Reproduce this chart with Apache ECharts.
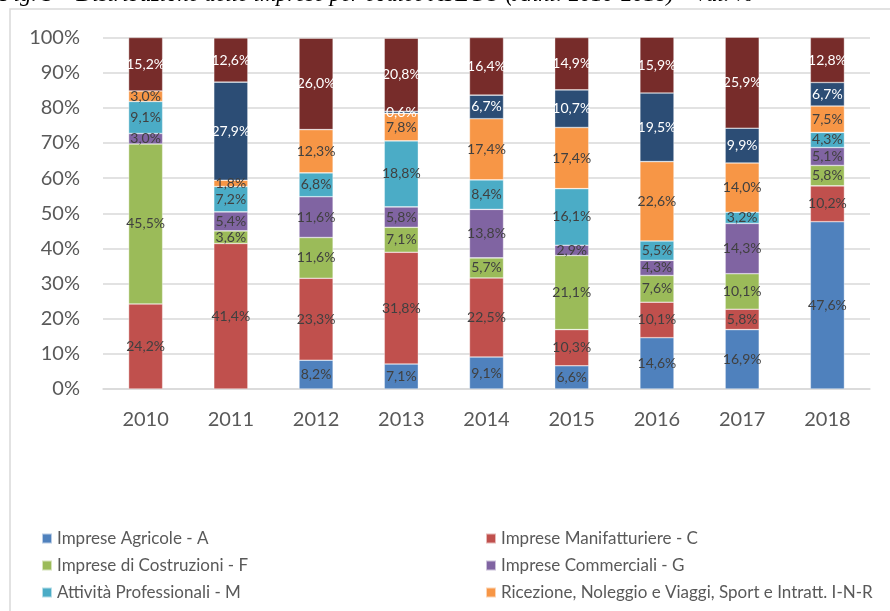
<!DOCTYPE html>
<html>
<head>
    <meta charset="utf-8">
    <script src="https://cdn.jsdelivr.net/npm/echarts@6/dist/echarts.min.js"></script>
    <style>
        html, body { margin: 0; padding: 0; background: #fff; }
        #main { width: 890px; height: 611px; }
    </style>
</head>
<body>
    <div id="main"></div>
    <script>
        var years = ['2010', '2011', '2012', '2013', '2014', '2015', '2016', '2017', '2018'];

        // values in %, 0 = segment absent
        var agricole      = [0, 0, 8.2, 7.1, 9.1, 6.6, 14.6, 16.9, 47.6];
        var manifatturiere = [24.2, 41.4, 23.3, 31.8, 22.5, 10.3, 10.1, 5.8, 10.2];
        var costruzioni   = [45.5, 3.6, 11.6, 7.1, 5.7, 21.1, 7.6, 10.1, 5.8];
        var commerciali   = [3.0, 5.4, 11.6, 5.8, 13.8, 2.9, 4.3, 14.3, 5.1];
        var professionali = [9.1, 7.2, 6.8, 18.8, 8.4, 16.1, 5.5, 3.2, 4.3];
        var ricezione     = [3.0, 1.8, 12.3, 7.8, 17.4, 17.4, 22.6, 14.0, 7.5];
        var trasporti     = [0, 27.9, 0, 0.6, 6.7, 10.7, 19.5, 9.9, 6.7];
        var altre         = [15.2, 12.6, 26.0, 20.8, 16.4, 14.9, 15.9, 25.9, 12.8];

        var seriesDefs = [
            { name: 'Imprese Agricole - A', data: agricole, color: '#4F81BD', label: '#404040' },
            { name: 'Imprese Manifatturiere - C', data: manifatturiere, color: '#C0504D', label: '#404040' },
            { name: 'Imprese di Costruzioni - F', data: costruzioni, color: '#9BBB59', label: '#404040' },
            { name: 'Imprese Commerciali - G', data: commerciali, color: '#8064A2', label: '#404040' },
            { name: 'Attività Professionali - M', data: professionali, color: '#4BACC6', label: '#404040' },
            { name: 'Ricezione, Noleggio e Viaggi, Sport e Intratt. I-N-R', data: ricezione, color: '#F79646', label: '#404040' },
            { name: 'Trasporti e Magazzinaggio - H', data: trasporti, color: '#2C4D75', label: '#ffffff' },
            { name: 'Altre Attività', data: altre, color: '#772C2A', label: '#ffffff' }
        ];

        var font = 'Lato';

        var series = seriesDefs.map(function (s) {
            return {
                name: s.name,
                type: 'bar',
                stack: 'tot',
                barWidth: '40%',
                itemStyle: { color: s.color, borderColor: 'rgba(255,255,255,0.6)', borderWidth: 0.6 },
                label: {
                    show: true,
                    position: 'inside',
                    color: s.label,
                    fontFamily: font,
                    fontSize: 14,
                    formatter: function (p) {
                        return p.value.toFixed(1).replace('.', ',') + '%';
                    }
                },
                data: s.data.map(function (v) { return v === 0 ? null : v; })
            };
        });

        var legendText = { color: '#595959', fontFamily: font, fontSize: 17, lineHeight: 17 };

        function legendAt(left, names) {
            return {
                orient: 'vertical',
                left: left,
                top: 530,
                height: 200,
                padding: 0,
                itemWidth: 10,
                itemHeight: 10,
                itemGap: 10,
                icon: 'rect',
                textStyle: legendText,
                data: names
            };
        }

        var chart = echarts.init(document.getElementById('main'));
        chart.setOption({
            animation: false,
            graphic: [
                {
                    type: 'rect',
                    shape: { x: 10, y: 9, width: 900, height: 700 },
                    style: { fill: 'none', stroke: '#d9d9d9', lineWidth: 1.5 }
                },
                {
                    type: 'text',
                    x: 0,
                    y: -5,
                    style: {
                        text: 'Fig. 3 – Distribuzione delle imprese per codice ATECO (Anni: 2010-2018) – val. %',
                        font: 'italic 22.5px "Liberation Serif"',
                        fill: '#000',
                        verticalAlign: 'middle'
                    }
                }
            ],
            legend: [
                legendAt(41, [seriesDefs[0].name, seriesDefs[2].name, seriesDefs[4].name, seriesDefs[6].name]),
                legendAt(485, [seriesDefs[1].name, seriesDefs[3].name, seriesDefs[5].name, seriesDefs[7].name])
            ],
            grid: { left: 103, right: 20, top: 37.5, bottom: 222 },
            xAxis: {
                type: 'category',
                data: years,
                axisLine: { lineStyle: { color: '#d9d9d9', width: 1.5 } },
                axisTick: { show: false },
                axisLabel: { color: '#595959', fontFamily: font, fontSize: 20, margin: 21 }
            },
            yAxis: {
                type: 'value',
                min: 0,
                max: 100,
                interval: 10,
                axisLine: { show: false },
                axisTick: { show: false },
                splitLine: { lineStyle: { color: '#d9d9d9', width: 1.5 } },
                axisLabel: {
                    color: '#595959',
                    fontFamily: font,
                    fontSize: 20,
                    margin: 23,
                    formatter: '{value}%'
                }
            },
            series: series
        });
    </script>
</body>
</html>
